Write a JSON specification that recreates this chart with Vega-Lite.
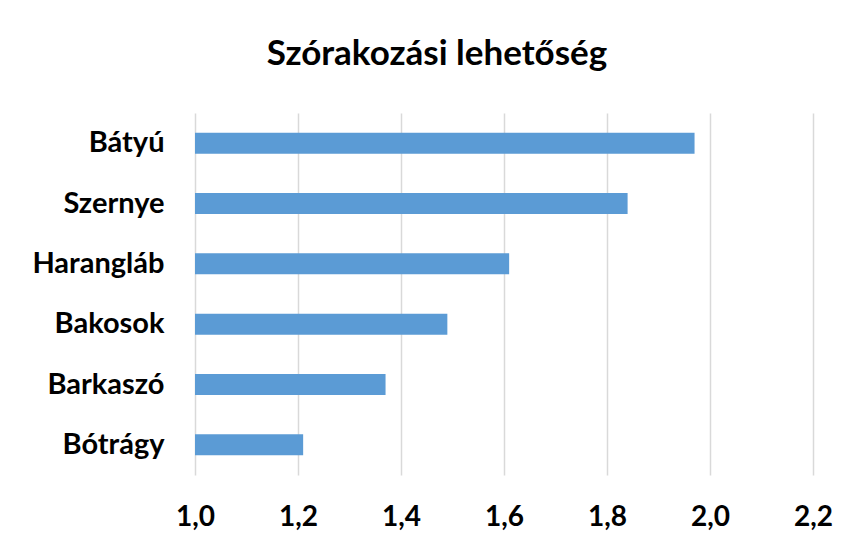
{
  "$schema": "https://vega.github.io/schema/vega-lite/v6.json",
  "width": 618,
  "height": 362,
  "autosize": "none",
  "padding": {"left": 195, "top": 113, "right": 36, "bottom": 70},
  "background": "white",
  "title": {
    "text": "Szórakozási lehetőség",
    "font": "Lato",
    "fontSize": 35,
    "fontWeight": "bold",
    "color": "#000000",
    "anchor": "middle",
    "dx": -67,
    "baseline": "alphabetic",
    "offset": 13
  },
  "data": {
    "values": [
      {"hely": "Bátyú", "ertek": 1.97},
      {"hely": "Szernye", "ertek": 1.84},
      {"hely": "Harangláb", "ertek": 1.61},
      {"hely": "Bakosok", "ertek": 1.49},
      {"hely": "Barkaszó", "ertek": 1.37},
      {"hely": "Bótrágy", "ertek": 1.21}
    ]
  },
  "mark": {"type": "bar", "color": "#5b9bd5"},
  "encoding": {
    "y": {
      "field": "hely",
      "type": "nominal",
      "sort": ["Bátyú", "Szernye", "Harangláb", "Bakosok", "Barkaszó", "Bótrágy"],
      "scale": {"paddingInner": 0.652, "paddingOuter": 0.326},
      "axis": {
        "title": null,
        "domain": false,
        "ticks": false,
        "labelFont": "Lato",
        "labelFontSize": 29,
        "labelFontWeight": "bold",
        "labelColor": "#000000",
        "labelPadding": 31
      }
    },
    "x": {
      "field": "ertek",
      "type": "quantitative",
      "scale": {"domain": [1.0, 2.2], "zero": false, "nice": false},
      "axis": {
        "title": null,
        "values": [1.0, 1.2, 1.4, 1.6, 1.8, 2.0, 2.2],
        "labelExpr": "replace(format(datum.value, '.1f'), '.', ',')",
        "labelFlush": false,
        "labelOverlap": false,
        "domain": false,
        "ticks": false,
        "grid": true,
        "gridColor": "#d9d9d9",
        "gridWidth": 1.5,
        "labelFont": "Lato",
        "labelFontSize": 28,
        "labelFontWeight": "bold",
        "labelColor": "#000000",
        "labelPadding": 28
      }
    },
    "x2": {"datum": 1.0}
  },
  "config": {"view": {"stroke": null}}
}
